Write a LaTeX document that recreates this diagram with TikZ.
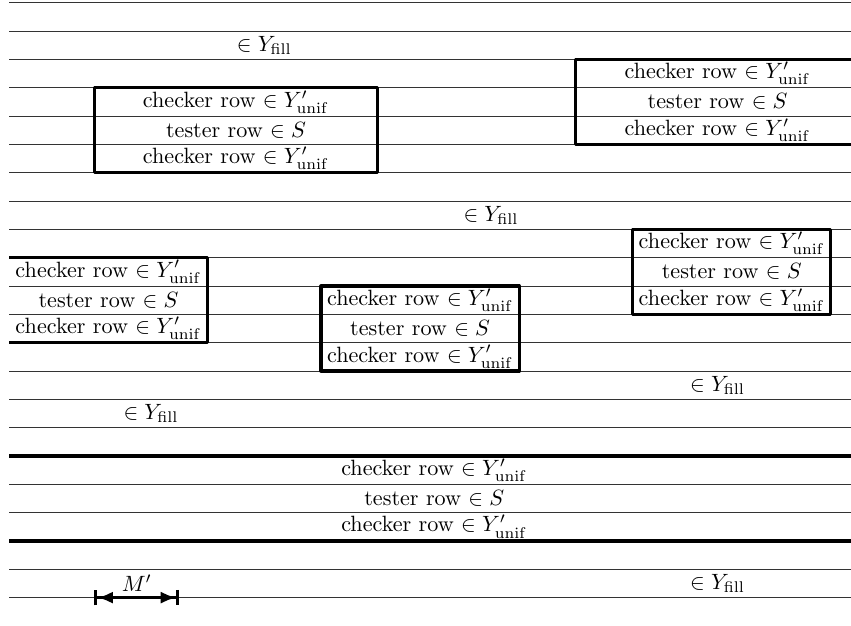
\documentclass[tikz,border=0pt]{standalone}
\usepackage{amsmath}
\usetikzlibrary{arrows.meta}
\newcommand\chkrow{checker row $\in Y'_{\mathrm{unif}}$}
\newcommand\tstrow{tester row $\in S$}
\newcommand\fillrow{$\in Y_{\text{fill}}$}
\begin{document}
\begin{tikzpicture}[x=0.45cm,y=0.45cm,
  rowline/.style={line width=0.4pt, black!80},
  blockbox/.style={line width=1.4pt, line join=round},
  rowtext/.style={inner sep=0pt, anchor=center},
  measure/.style={line width=1.4pt, {Bar[width=7pt]Latex[length=7pt,width=5.5pt]}-{Latex[length=7pt,width=5.5pt]Bar[width=7pt]}},
]
\useasboundingbox (-0.33,0.095) rectangle (29.71,-21.97);
% horizontal row lines
\foreach \k in {0,...,21} \draw[rowline] (0,-\k) -- (30,-\k);

% fill labels
\node[rowtext] (f1) at (9,-1.5) {\fillrow};
\node[rowtext] (f2) at (17,-7.5) {\fillrow};
\node[rowtext] (f3) at (25,-13.5) {\fillrow};
\node[rowtext] (f4) at (5,-14.5) {\fillrow};
\node[rowtext] (f5) at (25,-20.5) {\fillrow};

% box 1
\draw[blockbox] (3,-3) rectangle (13,-6);
\node[rowtext] (b1a) at (8,-3.5) {\chkrow};
\node[rowtext] (b1b) at (8,-4.5) {\tstrow};
\node[rowtext] (b1c) at (8,-5.5) {\chkrow};

% box 2 (runs off the right edge)
\draw[blockbox] (30.5,-2) -- (20,-2) -- (20,-5) -- (30.5,-5);
\node[rowtext] (b2a) at (25,-2.5) {\chkrow};
\node[rowtext] (b2b) at (25,-3.5) {\tstrow};
\node[rowtext] (b2c) at (25,-4.5) {\chkrow};

% box 5
\draw[blockbox] (22,-8) rectangle (29,-11);
\node[rowtext] (b5a) at (25.5,-8.5) {\chkrow};
\node[rowtext] (b5b) at (25.5,-9.5) {\tstrow};
\node[rowtext] (b5c) at (25.5,-10.5) {\chkrow};

% box 3 (runs off the left edge)
\draw[blockbox] (0,-9) -- (7,-9) -- (7,-12) -- (0,-12);
\node[rowtext] (b3a) at (3.5,-9.5) {\chkrow};
\node[rowtext] (b3b) at (3.5,-10.5) {\tstrow};
\node[rowtext] (b3c) at (3.5,-11.5) {\chkrow};

% box 4
\draw[blockbox] (11,-10) rectangle (18,-13);
\node[rowtext] (b4a) at (14.5,-10.5) {\chkrow};
\node[rowtext] (b4b) at (14.5,-11.5) {\tstrow};
\node[rowtext] (b4c) at (14.5,-12.5) {\chkrow};

% full-width band
\draw[blockbox] (0,-16) -- (30,-16);
\draw[blockbox] (0,-19) -- (30,-19);
\node[rowtext] (b6a) at (15,-16.5) {\chkrow};
\node[rowtext] (b6b) at (15,-17.5) {\tstrow};
\node[rowtext] (b6c) at (15,-18.5) {\chkrow};

% M' measure
\coordinate (ml) at (3,-21);
\coordinate (mr) at (6,-21);
\draw[measure] (ml) -- (mr) node[midway, above, inner sep=2pt] (mlab) {$M'$};
\end{tikzpicture}
\end{document}
